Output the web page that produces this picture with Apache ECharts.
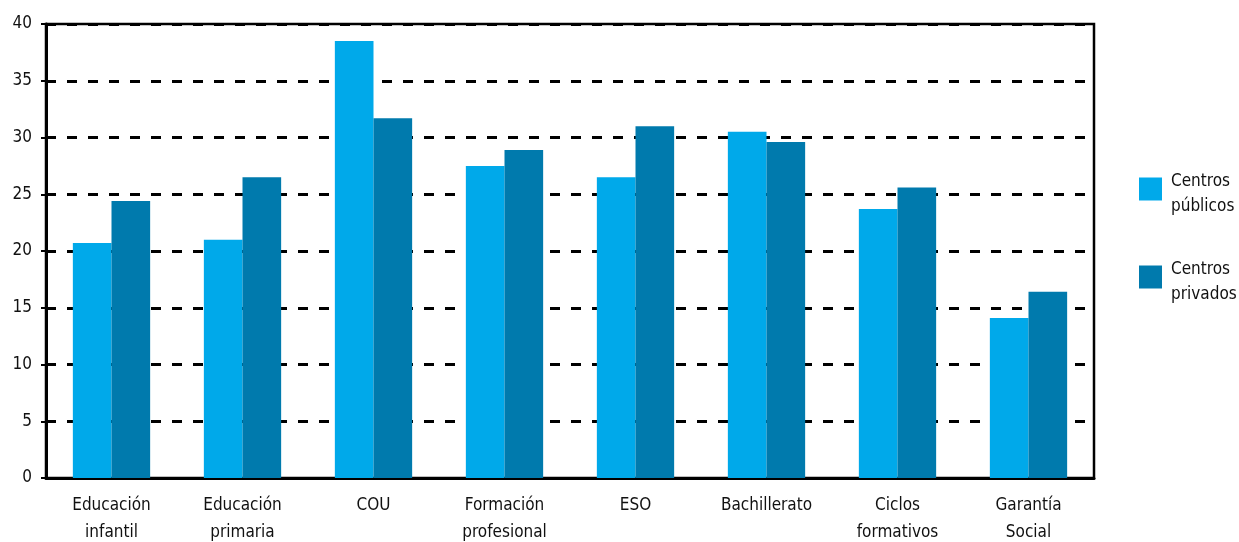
<!DOCTYPE html>
<html>
<head>
<meta charset="utf-8">
<script src="https://cdn.jsdelivr.net/npm/echarts@6/dist/echarts.min.js"></script>
<style>
html,body{margin:0;padding:0;background:#fff;}
#chart{width:1239px;height:542px;}
</style>
</head>
<body>
<div id="chart"></div>
<script>
const categories = ["Educación\ninfantil","Educación\nprimaria","COU","Formación\nprofesional","ESO","Bachillerato","Ciclos\nformativos","Garantía\nSocial"];
const publicos = [20.7, 21.0, 38.5, 27.5, 26.5, 30.5, 23.7, 14.1];
const privados = [24.4, 26.5, 31.7, 28.9, 31.0, 29.6, 25.6, 16.4];
const seriesNames = ["Centros públicos","Centros privados"];

const FONT = "'Liberation Sans Narrow','DejaVu Sans Condensed','Liberation Sans',sans-serif";
const chart = echarts.init(document.getElementById('chart'));
chart.setOption({
  animation:false,
  backgroundColor:'#fff',
  textStyle:{fontFamily:FONT},
  grid:{left:46,right:145,top:24,bottom:64,show:true,borderColor:'#000',borderWidth:2.5,backgroundColor:'transparent',outerBoundsMode:'none',containLabel:false},
  legend:{
    orient:'vertical',left:1139,top:159,padding:0,
    itemWidth:23,itemHeight:23,itemGap:32,
    icon:'rect',
    formatter:function(n){const p=n.split(' ');return '{s| }\n{t|'+p[0]+'}\n{t|'+p[1]+'}';},
    textStyle:{fontFamily:FONT,fontSize:17,color:'#111',
      rich:{
        s:{fontSize:2,lineHeight:10,height:10},
        t:{fontFamily:FONT,fontSize:17,color:'#111',lineHeight:25,padding:[0,0,0,4]}
      }}
  },
  xAxis:{
    type:'category',data:categories,
    axisLine:{lineStyle:{color:'#000',width:3}},
    axisTick:{show:false},
    axisLabel:{fontFamily:FONT,fontSize:17,color:'#111',lineHeight:27,margin:14,interval:0}
  },
  yAxis:{
    type:'value',min:0,max:40,interval:5,
    axisLine:{show:true,lineStyle:{color:'#000',width:3}},
    axisTick:{show:true,length:5,lineStyle:{color:'#000',width:2}},
    axisLabel:{fontFamily:FONT,fontSize:17,color:'#111',margin:14},
    splitLine:{show:true,lineStyle:{color:'#000',width:3,type:[10,11]}}
  },
  series:[
    {name:seriesNames[0],type:'bar',data:publicos,barGap:'0%',barCategoryGap:'41%',itemStyle:{color:'#00A9EA'}},
    {name:seriesNames[1],type:'bar',data:privados,barGap:'0%',barCategoryGap:'41%',itemStyle:{color:'#007AAD'}}
  ]
});
</script>
</body>
</html>
